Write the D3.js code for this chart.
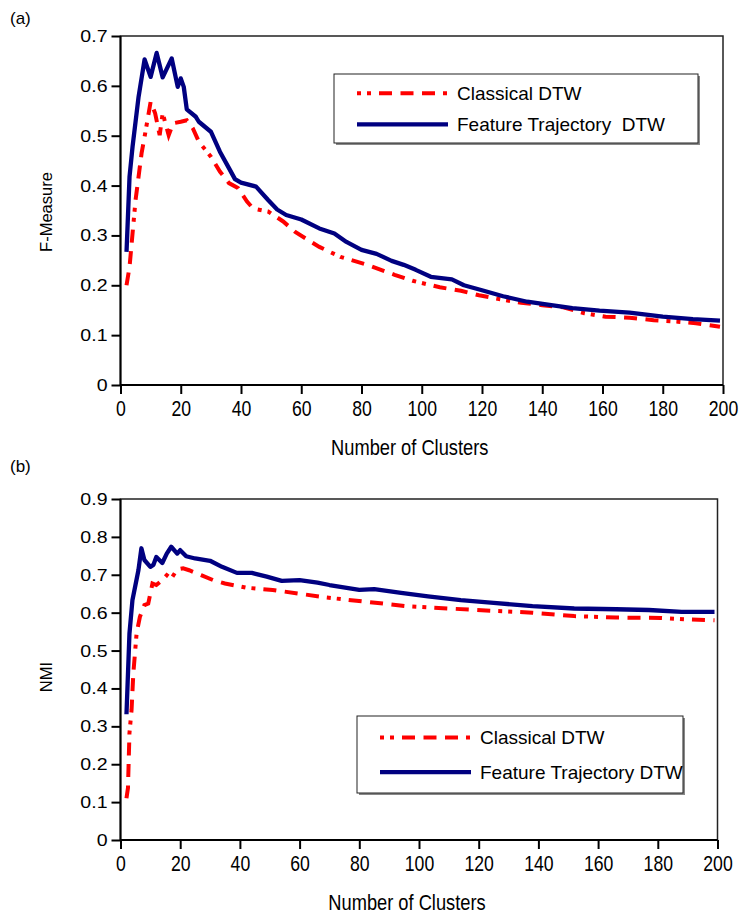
<!DOCTYPE html>
<html>
<head>
<meta charset="utf-8">
<script src="https://cdn.jsdelivr.net/npm/d3@7"></script>
<style>
  body { margin: 0; background: #fff; }
  svg text { fill: #000; }
  .tick line { stroke: #000; stroke-width: 2; }
  .domain { display: none; }
</style>
</head>
<body>
<div id="chart"></div>
<script>
// data
// (a) F-Measure
var fmClassicalX = [2, 3, 5, 7, 8, 10, 11.5, 13, 14, 16, 17.5, 20, 22, 24, 26, 30, 33, 36, 39, 42, 44, 49, 54, 58, 66, 73, 82, 91, 97, 106, 113, 119, 126, 133, 140, 147, 154, 161, 169, 177, 185, 191, 199];
var fmClassicalY = [0.2, 0.237, 0.371, 0.465, 0.498, 0.568, 0.545, 0.501, 0.545, 0.501, 0.525, 0.528, 0.531, 0.515, 0.488, 0.458, 0.428, 0.405, 0.395, 0.368, 0.354, 0.348, 0.328, 0.307, 0.277, 0.257, 0.241, 0.221, 0.209, 0.196, 0.189, 0.18, 0.172, 0.165, 0.16, 0.156, 0.144, 0.137, 0.135, 0.13, 0.127, 0.124, 0.117];
var fmFeatureX = [2, 3, 4, 6, 8, 10, 12, 14, 17, 19, 20, 21, 22, 25, 26, 30, 33, 36, 38, 40, 45, 49, 52, 55, 60, 66, 71, 75, 80, 85, 90, 94, 98, 103, 110, 114, 120, 127, 135, 143, 150, 159, 169, 180, 190, 199];
var fmFeatureY = [0.267, 0.418, 0.478, 0.578, 0.653, 0.618, 0.666, 0.617, 0.655, 0.598, 0.615, 0.598, 0.553, 0.538, 0.528, 0.508, 0.468, 0.435, 0.413, 0.406, 0.398, 0.371, 0.352, 0.341, 0.332, 0.314, 0.304, 0.287, 0.271, 0.263, 0.249, 0.241, 0.231, 0.217, 0.212, 0.2, 0.19, 0.178, 0.167, 0.16, 0.154, 0.149, 0.145, 0.137, 0.132, 0.129];

// (b) NMI
var nmiClassicalX = [2, 2.5, 3, 3.7, 4.3, 5.4, 6.5, 8, 9.3, 10.7, 12, 14, 15.5, 17, 19, 21, 23, 27, 31, 35, 42, 51, 60, 69, 82, 96, 110, 124, 138, 152, 166, 181, 190, 199];
var nmiClassicalY = [0.11, 0.137, 0.282, 0.343, 0.44, 0.546, 0.589, 0.62, 0.624, 0.677, 0.673, 0.686, 0.699, 0.69, 0.714, 0.717, 0.712, 0.699, 0.686, 0.677, 0.666, 0.66, 0.65, 0.64, 0.629, 0.617, 0.611, 0.605, 0.6, 0.591, 0.587, 0.586, 0.582, 0.58];
var nmiFeatureX = [2, 3, 4, 6, 7, 8, 10, 11, 12, 14, 15.5, 17, 19, 20, 22, 25, 30, 34, 39, 44, 49, 54, 60, 66, 70, 80, 85, 94, 103, 114, 125, 138, 152, 166, 177, 188, 199];
var nmiFeatureY = [0.332, 0.545, 0.633, 0.712, 0.77, 0.739, 0.721, 0.726, 0.747, 0.731, 0.756, 0.774, 0.756, 0.765, 0.749, 0.743, 0.737, 0.721, 0.705, 0.705, 0.695, 0.684, 0.686, 0.679, 0.673, 0.66, 0.662, 0.652, 0.643, 0.633, 0.626, 0.617, 0.611, 0.609, 0.607, 0.602, 0.602];

var xTicks = [0, 20, 40, 60, 80, 100, 120, 140, 160, 180, 200];
var fmTicks = [0, 0.1, 0.2, 0.3, 0.4, 0.5, 0.6, 0.7];
var nmiTicks = [0, 0.1, 0.2, 0.3, 0.4, 0.5, 0.6, 0.7, 0.8, 0.9];
var seriesNames = ["Classical DTW", "Feature Trajectory  DTW"];
var seriesNamesB = ["Classical DTW", "Feature Trajectory DTW"];

var svgWidth = 741;
var svgHeight = 915;

var svg = d3.select("#chart")
  .append("svg")
  .attr("width", svgWidth)
  .attr("height", svgHeight);

var redDash = "13,8.5,13,8.5,13,8,4,6,4,8";
var font = "'Liberation Sans', Arial, sans-serif";

function zip(xs, ys) {
  return xs.map(function(x, i) { return [x, ys[i]]; });
}

function drawPanel(opt) {
  var x = d3.scaleLinear().domain([0, 200]).range([opt.left, opt.right]);
  var y = d3.scaleLinear().domain([0, opt.yMax]).range([opt.bottom, opt.top]);
  var g = svg.append("g");

  // frame
  g.append("rect")
    .attr("x", opt.left).attr("y", opt.top)
    .attr("width", opt.right - opt.left)
    .attr("height", opt.bottom - opt.top)
    .attr("fill", "none")
    .attr("stroke", "#222")
    .attr("stroke-width", 1.5);

  var leftAxis = d3.axisLeft(y)
    .tickValues(opt.yTicks)
    .tickSize(9)
    .tickPadding(4)
    .tickFormat(function(d) { return d === 0 ? "0" : d3.format(".1f")(d); });
  var ya = g.append("g")
    .attr("transform", "translate(" + opt.left + ",0)")
    .call(leftAxis);
  // labels in the picture are a little wide
  ya.selectAll("text")
    .attr("x", 0)
    .attr("transform", "translate(-13,0) scale(1.15,1)")
    .style("font-family", font)
    .style("font-size", "17px");

  var bottomAxis = d3.axisBottom(x)
    .tickValues(xTicks)
    .tickSize(9)
    .tickPadding(7);
  var xa = g.append("g")
    .attr("transform", "translate(0," + opt.bottom + ")")
    .call(bottomAxis);
  // and these are condensed
  xa.selectAll("text")
    .attr("transform", "scale(0.82,1)")
    .style("font-family", font)
    .style("font-size", "21.5px");

  // axis lines
  g.append("line")
    .attr("x1", opt.left).attr("x2", opt.left)
    .attr("y1", opt.top).attr("y2", opt.bottom)
    .attr("stroke", "#000").attr("stroke-width", 2);
  g.append("line")
    .attr("x1", opt.left).attr("x2", opt.right)
    .attr("y1", opt.bottom).attr("y2", opt.bottom)
    .attr("stroke", "#000").attr("stroke-width", 2);

  var line = d3.line()
    .x(function(d) { return x(d[0]); })
    .y(function(d) { return y(d[1]); });

  g.append("path")
    .datum(zip(opt.redX, opt.redY))
    .attr("d", line)
    .attr("fill", "none")
    .attr("stroke", "#ff0000")
    .attr("stroke-width", 4)
    .attr("stroke-dasharray", redDash);

  g.append("path")
    .datum(zip(opt.blueX, opt.blueY))
    .attr("d", line)
    .attr("fill", "none")
    .attr("stroke", "#000080")
    .attr("stroke-width", 4.3)
    .attr("stroke-linejoin", "round");

  // axis titles
  g.append("text")
    .attr("transform", "translate(" + opt.yTitleX + "," + opt.yTitleY + ") rotate(-90)")
    .attr("text-anchor", "middle")
    .style("font-family", font)
    .style("font-size", "16.5px")
    .text(opt.yTitle);

  var cx = (opt.left + opt.right) / 2 - 12;
  g.append("text")
    .attr("transform", "translate(" + cx + "," + (opt.bottom + 70) + ") scale(0.85,1)")
    .attr("text-anchor", "middle")
    .style("font-family", font)
    .style("font-size", "21.5px")
    .text("Number of Clusters");

  g.append("text")
    .attr("x", 10)
    .attr("y", opt.panelY)
    .style("font-family", font)
    .style("font-size", "17px")
    .text(opt.panel);

  // legend
  var lg = g.append("g");
  lg.append("rect")
    .attr("x", opt.lx + 2).attr("y", opt.ly + 2)
    .attr("width", opt.lw).attr("height", opt.lh)
    .attr("fill", "#888");
  lg.append("rect")
    .attr("x", opt.lx).attr("y", opt.ly)
    .attr("width", opt.lw).attr("height", opt.lh)
    .attr("fill", "#fff")
    .attr("stroke", "#222")
    .attr("stroke-width", 1);
  var r1 = opt.ly + opt.lh * 0.28;
  var r2 = opt.ly + opt.lh * 0.73;
  lg.append("line")
    .attr("x1", opt.lx + 23).attr("x2", opt.lx + 114)
    .attr("y1", r1).attr("y2", r1)
    .attr("stroke", "#ff0000").attr("stroke-width", 4)
    .attr("stroke-dasharray", "4,6,4,8,13,8.5,13,8.5,13,8");
  lg.append("line")
    .attr("x1", opt.lx + 23).attr("x2", opt.lx + 114)
    .attr("y1", r2).attr("y2", r2)
    .attr("stroke", "#000080").attr("stroke-width", 4.3);
  lg.selectAll("text.leg")
    .data(opt.names)
    .enter()
    .append("text")
    .attr("class", "leg")
    .attr("x", opt.lx + 123)
    .attr("y", function(d, i) { return (i === 0 ? r1 : r2) + 6.5; })
    .style("font-family", font)
    .style("font-size", "19px")
    .style("white-space", "pre")
    .text(function(d) { return d; });
}

drawPanel({
  left: 120.5, right: 723, top: 36, bottom: 385, yMax: 0.7, yTicks: fmTicks,
  redX: fmClassicalX, redY: fmClassicalY, blueX: fmFeatureX, blueY: fmFeatureY,
  yTitle: "F-Measure", yTitleX: 52, yTitleY: 212,
  panel: "(a)", panelY: 24,
  lx: 334, ly: 74, lw: 364, lh: 69, names: seriesNames
});

drawPanel({
  left: 120.5, right: 717.5, top: 499, bottom: 840, yMax: 0.9, yTicks: nmiTicks,
  redX: nmiClassicalX, redY: nmiClassicalY, blueX: nmiFeatureX, blueY: nmiFeatureY,
  yTitle: "NMI", yTitleX: 52, yTitleY: 677,
  panel: "(b)", panelY: 472,
  lx: 357, ly: 716, lw: 326, lh: 77, names: seriesNamesB
});
</script>
</body>
</html>
